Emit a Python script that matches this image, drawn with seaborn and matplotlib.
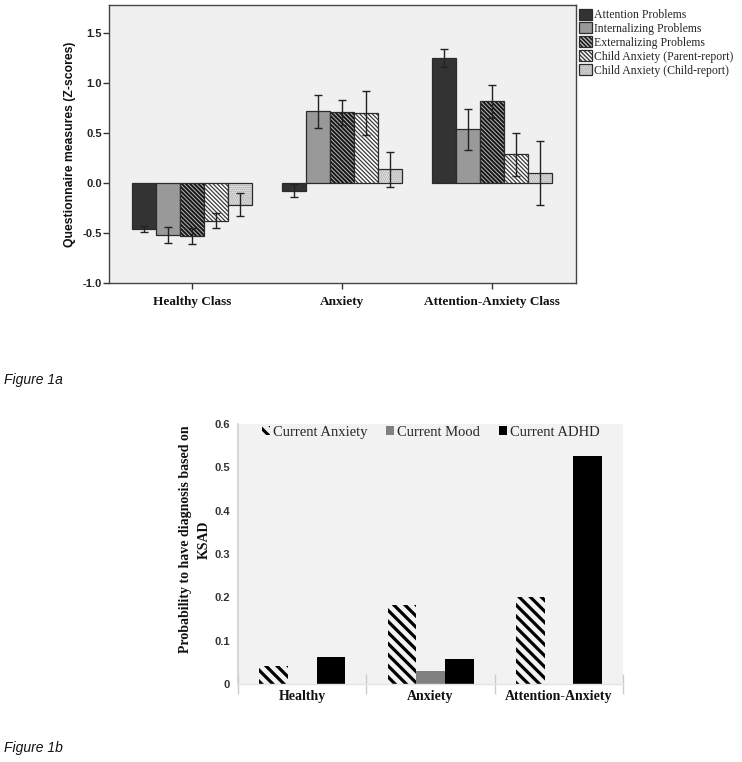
import numpy as np
import pandas as pd
import matplotlib
matplotlib.use("Agg")
import matplotlib.pyplot as plt
import seaborn as sns
from matplotlib.colors import to_rgba

# ---------------- data: Figure 1a ----------------
classes_a = ["Healthy Class", "Anxiety", "Attention-Anxiety Class"]
measures_a = ["Attention Problems", "Internalizing Problems", "Externalizing Problems",
              "Child Anxiety (Parent-report)", "Child Anxiety (Child-report)"]
attention = [-0.46, -0.08, 1.25]
internalizing = [-0.52, 0.72, 0.54]
externalizing = [-0.53, 0.71, 0.82]
parent_report = [-0.38, 0.70, 0.29]
child_report = [-0.22, 0.14, 0.10]
err_low = [[-0.49, -0.14, 1.16], [-0.60, 0.55, 0.33], [-0.61, 0.58, 0.65],
           [-0.45, 0.48, 0.07], [-0.33, -0.04, -0.22]]
err_high = [[-0.43, -0.01, 1.34], [-0.44, 0.88, 0.74], [-0.45, 0.83, 0.98],
            [-0.30, 0.92, 0.50], [-0.10, 0.31, 0.42]]
yticks_a = [-1.0, -0.5, 0.0, 0.5, 1.0, 1.5]

# ---------------- data: Figure 1b ----------------
classes_b = ["Healthy", "Anxiety", "Attention-Anxiety"]
diagnoses_b = ["Current Anxiety", "Current Mood", "Current ADHD"]
cur_anxiety = [0.042, 0.182, 0.200]
cur_mood = [0.0, 0.030, 0.0]
cur_adhd = [0.062, 0.058, 0.527]
yticks_b = [0, 0.1, 0.2, 0.3, 0.4, 0.5, 0.6]
ytick_labels_b = ["0", "0.1", "0.2", "0.3", "0.4", "0.5", "0.6"]

series_a = [attention, internalizing, externalizing, parent_report, child_report]
df_a = pd.DataFrame({
    "Class": [c for s in series_a for c in classes_a],
    "Measure": [m for m, s in zip(measures_a, series_a) for _ in classes_a],
    "Z": [v for s in series_a for v in s],
})
series_b = [cur_anxiety, cur_mood, cur_adhd]
df_b = pd.DataFrame({
    "Class": [c for s in series_b for c in classes_b],
    "Diagnosis": [d for d, s in zip(diagnoses_b, series_b) for _ in classes_b],
    "P": [v for s in series_b for v in s],
})

sns.set_theme(style="white")
plt.rcParams["font.family"] = ["Liberation Sans", "DejaVu Sans"]
SERIF = ["Liberation Serif", "DejaVu Serif"]


def set_hlw(p, lw):
    if hasattr(p, "set_hatch_linewidth"):
        p.set_hatch_linewidth(lw)


fig = plt.figure(figsize=(7.42, 7.62), dpi=100)

# ======================= Figure 1a =======================
plt.rcParams["hatch.linewidth"] = 1.0
ax1 = fig.add_axes([0.147, 0.6286, 0.629, 0.3648])
ax1.set_facecolor("#f0f0f0")
sns.barplot(data=df_a, x="Class", y="Z", hue="Measure", order=classes_a,
            hue_order=measures_a, errorbar=None, width=0.8, ax=ax1, legend=False,
            palette=["#333333"] * 5, saturation=1)

styles = [
    dict(fc="#333333", hatch=None, hc=None, hlw=1.0),
    dict(fc="#999999", hatch=None, hc=None, hlw=1.0),
    dict(fc="#161616", hatch="\\" * 8, hc="#b8b8b8", hlw=0.7),
    dict(fc="#ffffff", hatch="\\" * 8, hc="#3a3a3a", hlw=0.9),
    dict(fc="#e6e6e6", hatch="." * 8, hc="#a0a0a0", hlw=0.8),
]
for cont, st, lo, hi in zip(ax1.containers, styles, err_low, err_high):
    xs = []
    for p in cont.patches:
        p.set_facecolor(st["fc"])
        p.set_edgecolor("#2b2b2b")
        p.set_linewidth(0.9)
        if st["hatch"]:
            p.set_hatch(st["hatch"])
            p._hatch_color = to_rgba(st["hc"])
            set_hlw(p, st["hlw"])
        xs.append(p.get_x() + p.get_width() / 2)
    vals = np.array([p.get_height() for p in cont.patches])
    lo = np.array(lo); hi = np.array(hi)
    ax1.errorbar(xs, vals, yerr=[vals - lo, hi - vals], fmt="none",
                 ecolor="#222222", elinewidth=1.0, capsize=3, capthick=1.0, zorder=5)

ax1.set_xlim(-0.553, 2.56)
ax1.set_ylim(-1.0, 1.78)
ax1.set_yticks(yticks_a)
ax1.set_yticklabels([f"{t:.1f}" for t in yticks_a], fontsize=8, fontweight="bold",
                    color="#222222")
ax1.set_xticks(range(3))
ax1.set_xticklabels(classes_a, family=SERIF, fontsize=9.5, fontweight="bold",
                    color="#111111")
ax1.tick_params(axis="both", direction="out", length=4, width=1, color="#333333",
                left=True, bottom=True)
ax1.tick_params(axis="x", pad=5)
ax1.tick_params(axis="y", pad=1)
for s in ax1.spines.values():
    s.set_color("#444444"); s.set_linewidth(1.0); s.set_visible(True)
ax1.set_xlabel("")
ax1.set_ylabel("Questionnaire measures (Z-scores)", fontsize=8.8, fontweight="bold",
               color="#111111")
ax1.yaxis.set_label_coords(-0.071, 0.5)

leg1 = ax1.legend(ax1.containers, measures_a, loc="upper left",
                  bbox_to_anchor=(1.0, 1.0), borderaxespad=0.1, frameon=False,
                  prop={"family": SERIF, "size": 8.5}, handlelength=1.1,
                  handleheight=1.05, handletextpad=0.15, labelspacing=0.12,
                  borderpad=0.2)

fig.text(0.006, 0.501, "Figure 1a", fontsize=10, style="italic", va="center",
         ha="left", color="#111111")

# ======================= Figure 1b =======================
plt.rcParams["hatch.linewidth"] = 2.2
ax2 = fig.add_axes([0.3208, 0.1024, 0.5189, 0.3412])
ax2.set_facecolor("#f2f2f2")
sns.barplot(data=df_b, x="Class", y="P", hue="Diagnosis", order=classes_b,
            hue_order=diagnoses_b, errorbar=None, width=0.67, ax=ax2, legend=False,
            palette=["#f2f2f2", "#808080", "#000000"], saturation=1)
for p in ax2.containers[0].patches:
    p.set_facecolor("#f2f2f2")
    p.set_edgecolor("#000000")
    p.set_hatch("\\" * 3)
    p.set_linewidth(0)
    set_hlw(p, 2.3)
for c in ax2.containers[1:]:
    for p in c.patches:
        p.set_linewidth(0)

ax2.set_xlim(-0.5, 2.5)
ax2.set_ylim(0, 0.6)
ax2.set_yticks(yticks_b)
ax2.set_yticklabels(ytick_labels_b, fontsize=8, fontweight="bold", color="#333333")
ax2.tick_params(axis="y", length=0, pad=6)
ax2.set_xticks(range(3))
ax2.set_xticklabels(classes_b, family=SERIF, fontsize=10, fontweight="bold",
                    color="#111111")
ax2.tick_params(axis="x", which="major", length=0, pad=4)
ax2.set_xticks([-0.5, 0.5, 1.5, 2.5], minor=True)
ax2.tick_params(axis="x", which="minor", direction="inout", length=14, width=1,
                color="#cccccc", bottom=True)
for side in ["top", "right"]:
    ax2.spines[side].set_visible(False)
ax2.spines["left"].set_color("#d0d0d0")
ax2.spines["left"].set_linewidth(1.2)
ax2.spines["bottom"].set_color("#e4e4e4")
ax2.spines["bottom"].set_linewidth(1.0)
ax2.set_xlabel("")
ax2.set_ylabel("Probability to have diagnosis based on\nKSAD", family=SERIF,
               fontsize=10, fontweight="bold", color="#111111", linespacing=1.6)
ax2.yaxis.set_label_coords(-0.07, 0.555)

leg2 = ax2.legend(ax2.containers, diagnoses_b, loc="upper center",
                  bbox_to_anchor=(0.5, 1.015), ncol=3, frameon=False,
                  prop={"family": SERIF, "size": 10.5}, handlelength=0.55,
                  handleheight=0.55, handletextpad=0.2, columnspacing=1.3,
                  borderaxespad=0)

fig.text(0.006, 0.019, "Figure 1b", fontsize=10, style="italic", va="center",
         ha="left", color="#111111")

fig.savefig("out.png", dpi=100, facecolor="white")
